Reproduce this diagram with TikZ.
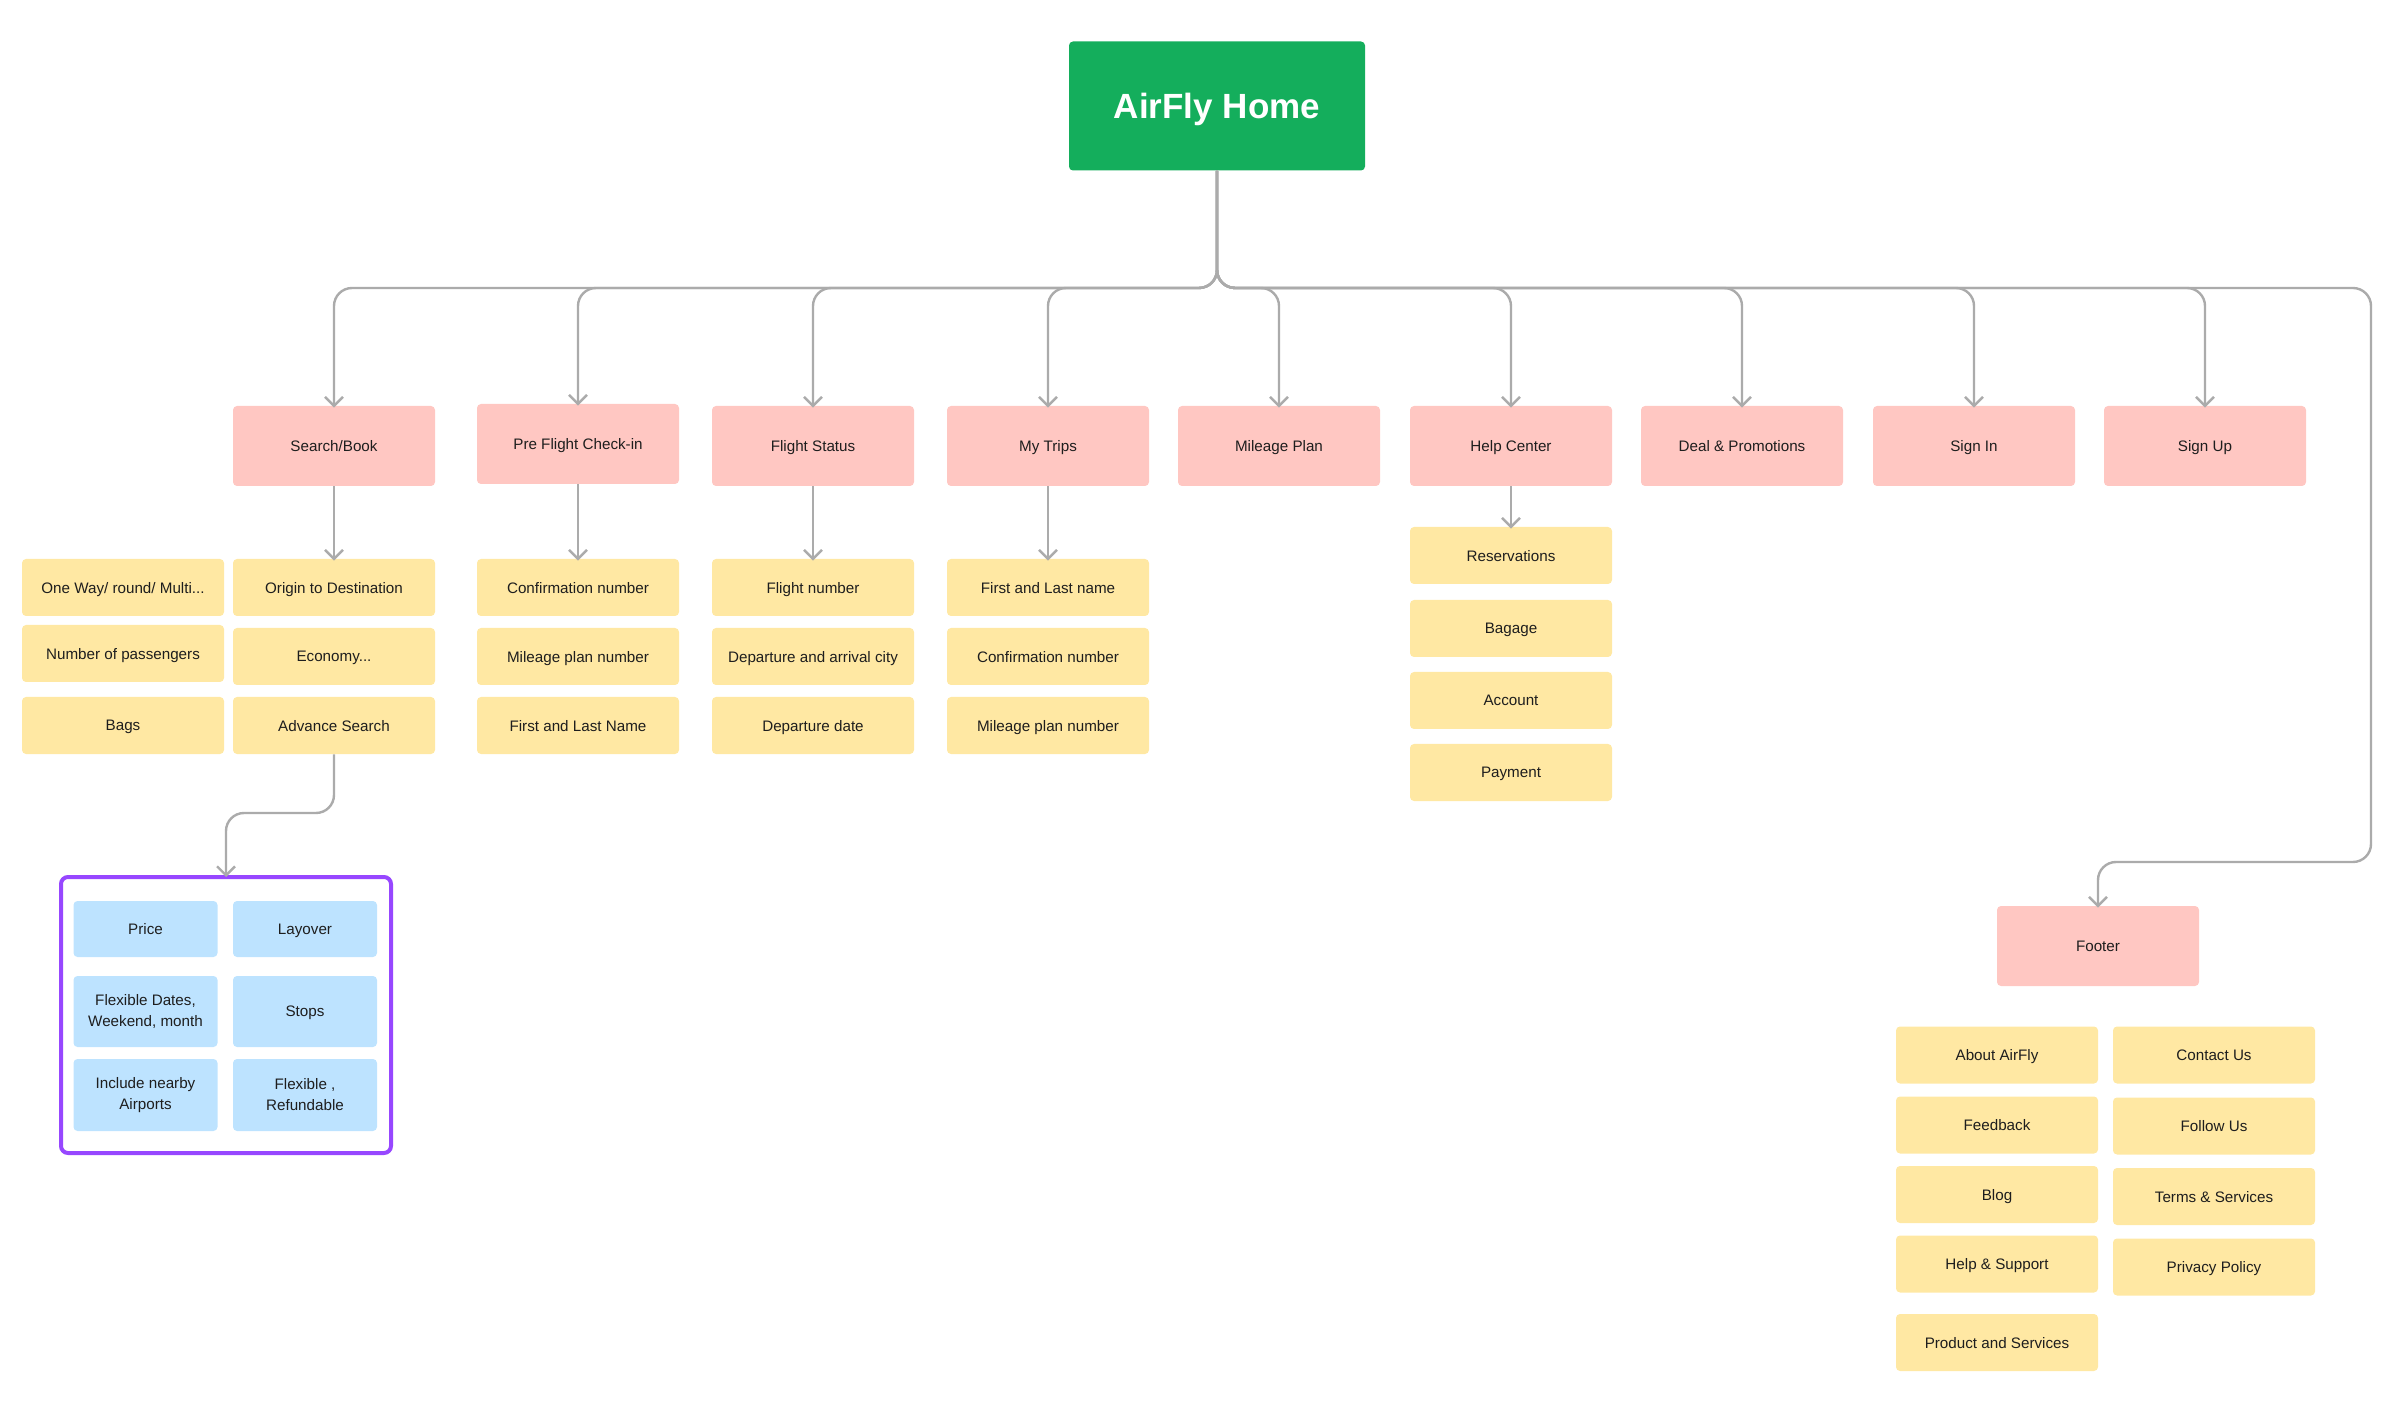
\documentclass[tikz,border=0pt]{standalone}
\usepackage{fontspec}
\setmainfont{Liberation Sans}
\usetikzlibrary{arrows.meta}
\definecolor{greenc}{HTML}{14AE5C}
\definecolor{pinkc}{HTML}{FFC7C2}
\definecolor{yelc}{HTML}{FFE8A3}
\definecolor{bluc}{HTML}{BDE3FF}
\definecolor{purc}{HTML}{9747FF}
\definecolor{linec}{HTML}{ABABAB}
\definecolor{txtc}{HTML}{1E1E1E}
\tikzset{
  base/.style={rounded corners=2pt, inner sep=0pt, align=center, text=txtc,
    font=\fontsize{7.6}{10.5}\selectfont},
  pinkbox/.style={base, fill=pinkc, minimum width=101pt, minimum height=40pt, text depth=0pt},
  yelbox/.style={base, fill=yelc, minimum width=101pt, minimum height=28.5pt, text depth=0pt},
  blubox/.style={base, fill=bluc, minimum width=72pt},
  conn/.style={draw=linec, line width=1.2pt, rounded corners=9pt,
    -{Straight Barb[length=4.5pt,width=9pt]}}
}
\begin{document}
\begin{tikzpicture}[x=0.5pt,y=-0.5pt]
\useasboundingbox (0,0) rectangle (2405,1411);
% root
\node[rounded corners=2pt, fill=greenc, minimum width=148pt, minimum height=64.5pt,
  text=white, text depth=0pt, font=\fontsize{17.5}{20}\selectfont\bfseries] (home) at (1217,106) {AirFly Home};
% level 1
\node[pinkbox] (sb) at (334,446) {Search/Book};
\node[pinkbox] (pf) at (578,444) {Pre Flight Check-in};
\node[pinkbox] (fs) at (813,446) {Flight Status};
\node[pinkbox] (mt) at (1048,446) {My Trips};
\node[pinkbox] (mp) at (1279,446) {Mileage Plan};
\node[pinkbox] (hc) at (1511,446) {Help Center};
\node[pinkbox] (dp) at (1742,446) {Deal \& Promotions};
\node[pinkbox] (si) at (1974,446) {Sign In};
\node[pinkbox] (su) at (2205,446) {Sign Up};
\node[pinkbox] (ft) at (2098,946) {Footer};
% search/book children
\node[yelbox] (ow) at (123,587.5) {One Way/ round/ Multi...};
\node[yelbox] (otd) at (334,587.5) {Origin to Destination};
\node[yelbox] (np) at (123,653.5) {Number of passengers};
\node[yelbox] (eco) at (334,656.5) {Economy...};
\node[yelbox] (bags) at (123,725.5) {Bags};
\node[yelbox] (adv) at (334,725.5) {Advance Search};
% pre flight
\node[yelbox] (pf1) at (578,587.5) {Confirmation number};
\node[yelbox] (pf2) at (578,656.5) {Mileage plan number};
\node[yelbox] (pf3) at (578,725.5) {First and Last Name};
% flight status
\node[yelbox] (fs1) at (813,587.5) {Flight number};
\node[yelbox] (fs2) at (813,656.5) {Departure and arrival city};
\node[yelbox] (fs3) at (813,725.5) {Departure date};
% my trips
\node[yelbox] (mt1) at (1048,587.5) {First and Last name};
\node[yelbox] (mt2) at (1048,656.5) {Confirmation number};
\node[yelbox] (mt3) at (1048,725.5) {Mileage plan number};
% help center
\node[yelbox] (hc1) at (1511,555.5) {Reservations};
\node[yelbox] (hc2) at (1511,628.5) {Bagage};
\node[yelbox] (hc3) at (1511,700.5) {Account};
\node[yelbox] (hc4) at (1511,772.5) {Payment};
% advanced search group
\node[draw=purc, line width=2pt, rounded corners=3.5pt, minimum width=165pt,
  minimum height=138pt, inner sep=0pt] (grp) at (226,1015) {};
\node[blubox, minimum height=28pt, text depth=0pt] (b1) at (145.5,929) {Price};
\node[blubox, minimum height=28pt, text depth=0pt] (b2) at (305,929) {Layover};
\node[blubox, minimum height=35.5pt] (b3) at (145.5,1011.5) {Flexible Dates,\\Weekend, month};
\node[blubox, minimum height=35.5pt, text depth=0pt] (b4) at (305,1011.5) {Stops};
\node[blubox, minimum height=36pt] (b5) at (145.5,1095) {Include nearby\\Airports};
\node[blubox, minimum height=36pt] (b6) at (305,1095) {Flexible ,\\Refundable};
% footer items
\node[yelbox] (f1) at (1997,1055) {About AirFly};
\node[yelbox] (f2) at (1997,1125) {Feedback};
\node[yelbox] (f3) at (1997,1194.5) {Blog};
\node[yelbox] (f4) at (1997,1264) {Help \& Support};
\node[yelbox] (f5) at (1997,1342.5) {Product and Services};
\node[yelbox] (f6) at (2214,1055) {Contact Us};
\node[yelbox] (f7) at (2214,1126) {Follow Us};
\node[yelbox] (f8) at (2214,1196.5) {Terms \& Services};
\node[yelbox] (f9) at (2214,1267) {Privacy Policy};
% connectors from root
\foreach \t in {sb,pf,fs,mt,mp,hc,dp,si,su}{
  \draw[conn] (home.south) -- (1217,288) -| ([yshift=-1pt]\t.north);
}
\draw[conn] (home.south) -- (1217,288) -- (2371,288) -- (2371,862) -| ([yshift=-1pt]ft.north);
% level 2 connectors
\draw[conn] (sb.south) -- ([yshift=-1pt]otd.north);
\draw[conn] (pf.south) -- ([yshift=-1pt]pf1.north);
\draw[conn] (fs.south) -- ([yshift=-1pt]fs1.north);
\draw[conn] (mt.south) -- ([yshift=-1pt]mt1.north);
\draw[conn] (hc.south) -- ([yshift=-1pt]hc1.north);
\draw[conn] (adv.south) -- (334,813) -| ([yshift=-1pt]grp.north);
\end{tikzpicture}
\end{document}
